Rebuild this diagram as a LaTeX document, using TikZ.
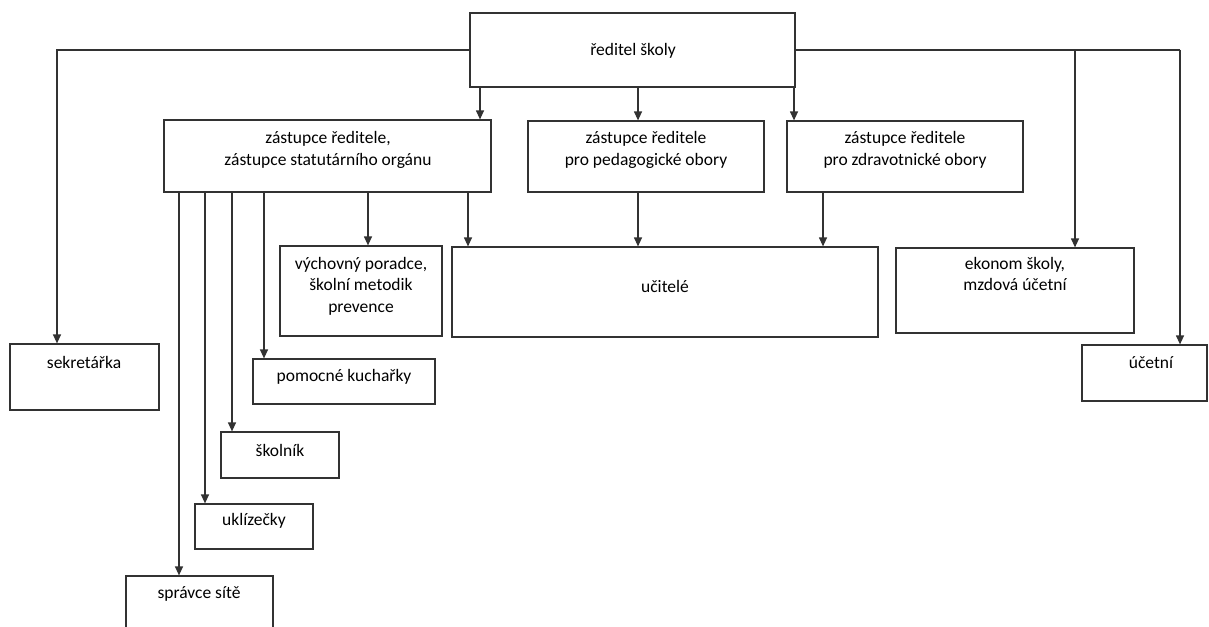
\documentclass[tikz,border=0pt]{standalone}
\usepackage{fontspec}
\setmainfont{Carlito}
\usetikzlibrary{arrows.meta}
\definecolor{ln}{RGB}{50,50,50}
\tikzset{
  box/.style={draw=ln, line width=1.2pt, rectangle, inner sep=0pt, fill=white},
  lbl/.style={font=\fontsize{17.5pt}{21.5pt}\selectfont, align=center, inner sep=0pt, text=black},
  arr/.style={draw=ln, line width=1.2pt, -{Triangle[length=9pt,width=8pt]}},
  ln/.style={draw=ln, line width=1.2pt}
}
\newcommand\orgbox[5]{\node[box, minimum width={(#4-#2)*1pt}, minimum height={(#5-#3)*1pt}] (#1) at ({(#2+#4)/2},{(#3+#5)/2}) {};}
\begin{document}
\begin{tikzpicture}[x=1pt,y=-1pt]
\useasboundingbox (0,0) rectangle (1209,626);
\clip (0,0) rectangle (1209,626);
\fill[white] (0,0) rectangle (1209,626);
% boxes
\orgbox{dir}{470}{13}{795}{87}
\orgbox{sek}{10}{344}{159}{410}
\orgbox{za}{164}{120}{491}{192}
\orgbox{zb}{528}{121}{764}{192}
\orgbox{zc}{787}{121}{1023}{192}
\orgbox{uci}{452}{247}{878}{337}
\orgbox{vyc}{280}{246}{442}{336}
\orgbox{eko}{896}{248}{1134}{333}
\orgbox{uce}{1082}{345}{1207}{401}
\orgbox{kuc}{253}{359}{435}{404}
\orgbox{sko}{221}{432}{339}{478}
\orgbox{ukl}{195}{504}{313}{549}
\orgbox{spr}{126}{576}{273}{660}
% texts
\node[lbl] (dir-t) at (633,51) {ředitel školy};
\node[lbl] (za-t) at (328,150) {zástupce ředitele,\\zástupce statutárního orgánu};
\node[lbl] (zb-t) at (646,150) {zástupce ředitele\\pro pedagogické obory};
\node[lbl] (zc-t) at (905,150) {zástupce ředitele\\pro zdravotnické obory};
\node[lbl] (uci-t) at (665,286) {učitelé};
\node[lbl] (vyc-t) at (361,286) {výchovný poradce,\\školní metodik\\prevence};
\node[lbl] (eko-t) at (1015,274) {ekonom školy,\\mzdová účetní};
\node[lbl] (uce-t) at (1151,363) {účetní};
\node[lbl] (sek-t) at (84,362) {sekretářka};
\node[lbl] (kuc-t) at (344,377) {pomocné kuchařky};
\node[lbl] (sko-t) at (280,450) {školník};
\node[lbl] (ukl-t) at (254,521) {uklízečky};
\node[lbl] (spr-t) at (199,594) {správce sítě};
% x positions
\coordinate (xL) at (57,0);
\coordinate (xA) at (480,0);
\coordinate (xB) at (638,0);
\coordinate (xC) at (794,0);
\coordinate (xE) at (1075,0);
\coordinate (xU) at (1180,0);
\coordinate (xZa) at (468,0);
\coordinate (xZc) at (823,0);
\coordinate (xV) at (368,0);
\coordinate (xS) at (179,0);
\coordinate (xK) at (205,0);
\coordinate (xSk) at (232,0);
\coordinate (xP) at (264,0);
% connectors
\draw[arr] (dir.west) -| (sek.north -| xL);
\draw[ln] (dir.east) -- (dir.east -| xU);
\draw[arr] (dir.east -| xU) -- (uce.north -| xU);
\draw[arr] (dir.east -| xE) -- (eko.north -| xE);
\draw[arr] (dir.south -| xA) -- (za.north -| xA);
\draw[arr] (dir.south -| xB) -- (zb.north -| xB);
\draw[arr] (dir.south -| xC) -- (zc.north -| xC);
\draw[arr] (za.south -| xZa) -- (uci.north -| xZa);
\draw[arr] (zb.south -| xB) -- (uci.north -| xB);
\draw[arr] (zc.south -| xZc) -- (uci.north -| xZc);
\draw[arr] (za.south -| xV) -- (vyc.north -| xV);
\draw[arr] (za.south -| xP) -- (kuc.north -| xP);
\draw[arr] (za.south -| xSk) -- (sko.north -| xSk);
\draw[arr] (za.south -| xK) -- (ukl.north -| xK);
\draw[arr] (za.south -| xS) -- (spr.north -| xS);
\end{tikzpicture}
\end{document}
